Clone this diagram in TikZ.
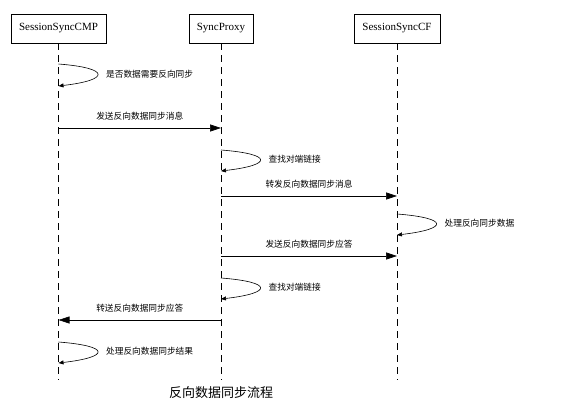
\documentclass[tikz,border=0pt]{standalone}
\usepackage{fontspec}
\setmainfont{Liberation Serif}
\newfontfamily\cjk{Noto Sans CJK SC}
\usetikzlibrary{arrows.meta, calc}
\begin{document}
\begin{tikzpicture}[x=1pt, y=-1pt, line width=0.6pt,
		obj/.style = {draw, minimum height=29pt, inner xsep=4pt, font=\fontsize{11}{12}\selectfont},
		life/.style = {dash pattern=on 7pt off 5pt},
		msg/.style = {-{Triangle[length=11pt,width=7pt]}},
		self/.style = {-{Triangle[length=5pt,width=4pt]}},
		lbl/.style = {font=\cjk\fontsize{8.7}{9}\selectfont}]
			\useasboundingbox (0,0) rectangle (564,414);
			\node[obj, minimum width=95pt] (cmp) at (58.5,28.5) {SessionSyncCMP};
			\node[obj, minimum width=64pt] (proxy) at (221,28.5) {SyncProxy};
			\node[obj, minimum width=86pt] (cf) at (397,28.5) {SessionSyncCF};
			\coordinate (cmpEnd) at (58.5,380);
			\coordinate (proxyEnd) at (221,380);
			\coordinate (cfEnd) at (397,380);
			\draw[life] (cmp) -- (cmpEnd);
			\draw[life] (proxy) -- (proxyEnd);
			\draw[life] (cf) -- (cfEnd);
			% self calls
			\foreach \n/\x/\ya/\yb/\t in {s1/58.5/64/86/是否数据需要反向同步, s2/221/150/171/查找对端链接, s3/397/214/235/处理反向同步数据, s4/221/278/299/查找对端链接, s5/58.5/342/363/处理反向数据同步结果} {
				\coordinate (\n a) at (\x,\ya);
				\coordinate (\n b) at (\x,\yb);
				\draw[self] (\n a) .. controls +(52,4) and +(52,-6) .. (\n b);
				\node[lbl, anchor=west] (\n t) at (\x+44,\ya/2+\yb/2-1) {\t};
			}
			% messages
			\foreach \n/\xa/\xb/\y/\t in {m1/58.5/221/128/发送反向数据同步消息, m2/221/397/196/转发反向数据同步消息, m3/221/397/256/发送反向数据同步应答, m4/221/58.5/320/转送反向数据同步应答} {
				\coordinate (\n a) at (\xa,\y);
				\coordinate (\n b) at (\xb,\y);
				\draw[msg] (\n a) -- (\n b);
				\node[lbl, above=4pt] (\n t) at ($(\n a)!0.5!(\n b)$) {\t};
			}
			\node[font=\cjk\fontsize{13}{14}\selectfont] (title) at (221,393) {反向数据同步流程};
		\end{tikzpicture}
\end{document}
